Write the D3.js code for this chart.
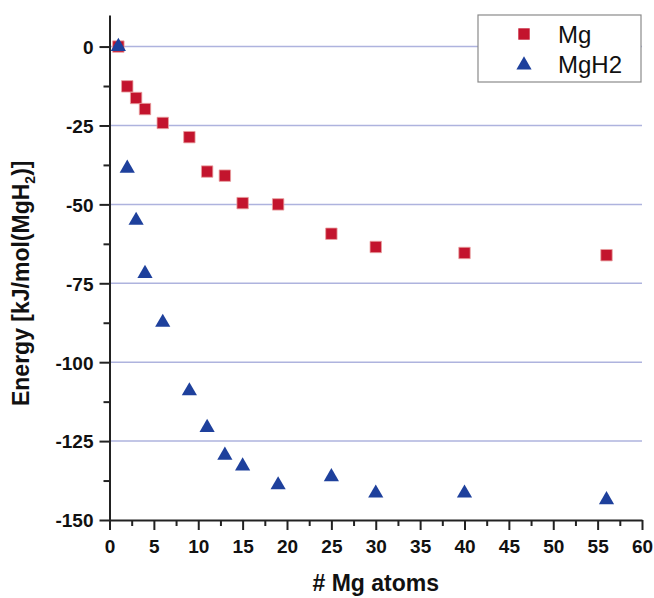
<!DOCTYPE html>
<html>
<head>
<meta charset="utf-8">
<script src="https://cdn.jsdelivr.net/npm/d3@7"></script>
<style>
  body { margin: 0; background: #fff; }
  svg { display: block; font-family: Arial, "Liberation Sans", Helvetica, sans-serif; }
</style>
</head>
<body>
<div id="chart"></div>
<script>
// number of Mg atoms in the cluster
const mgAtoms = [1, 2, 3, 4, 6, 9, 11, 13, 15, 19, 25, 30, 40, 56];
// energies, kJ/mol(MgH2)
const mgEnergy = [0, -12.6, -16.3, -19.8, -24.2, -28.7, -39.6, -40.9, -49.6, -50.0, -59.3, -63.5, -65.4, -66.1];
const mgh2Energy = [0, -38.6, -55.1, -71.9, -87.4, -109.1, -120.7, -129.5, -132.9, -138.9, -136.3, -141.5, -141.5, -143.6];

const xTicks = [0, 5, 10, 15, 20, 25, 30, 35, 40, 45, 50, 55, 60];
const yTicks = [0, -25, -50, -75, -100, -125, -150];

const width = 654, height = 598;
const margin = { top: 15, right: 12, bottom: 78, left: 109.5 };

const red = "#c3142d", blue = "#1e409c", axisColor = "#222";

const svg = d3.select("#chart").append("svg")
  .attr("width", width)
  .attr("height", height);

const x = d3.scaleLinear().domain([0, 60]).range([margin.left, width - margin.right]);
const y = d3.scaleLinear().domain([-150, 10]).range([height - margin.bottom, margin.top]);

// grid lines
svg.append("g")
  .selectAll("line")
  .data(yTicks.filter(d => d > -150))
  .enter().append("line")
  .attr("x1", x(0))
  .attr("x2", x(60))
  .attr("y1", d => y(d))
  .attr("y2", d => y(d))
  .attr("stroke", "#aeb3de")
  .attr("stroke-width", 1.5);

// minor ticks
const yMinor = d3.range(-137.5, 0, 25);
const xMinor = d3.range(2.5, 60, 5);

svg.append("g")
  .attr("transform", `translate(${x(0)},0)`)
  .call(d3.axisLeft(y).tickValues(yMinor).tickSize(6).tickFormat(""))
  .call(g => g.select(".domain").remove())
  .call(g => g.selectAll("line").attr("stroke", axisColor).attr("stroke-width", 2));

svg.append("g")
  .attr("transform", `translate(0,${y(-150)})`)
  .call(d3.axisBottom(x).tickValues(xMinor).tickSize(6).tickFormat(""))
  .call(g => g.select(".domain").remove())
  .call(g => g.selectAll("line").attr("stroke", axisColor).attr("stroke-width", 2));

// major axes (plain hyphen for negatives, like the original)
const yAxis = svg.append("g")
  .attr("transform", `translate(${x(0)},0)`)
  .call(d3.axisLeft(y).tickValues(yTicks).tickSize(10).tickPadding(6).tickSizeOuter(0).tickFormat(d => String(d)));

const xAxis = svg.append("g")
  .attr("transform", `translate(0,${y(-150)})`)
  .call(d3.axisBottom(x).tickValues(xTicks).tickSize(10).tickPadding(10).tickSizeOuter(0).tickFormat(d => String(d)));

[yAxis, xAxis].forEach(g => {
  g.select(".domain").attr("stroke", axisColor).attr("stroke-width", 2);
  g.selectAll(".tick line").attr("stroke", axisColor).attr("stroke-width", 2);
  g.selectAll(".tick text")
    .attr("fill", "#111")
    .style("font-size", "19px")
    .style("font-weight", "bold")
    .style("font-family", "Arial, 'Liberation Sans', sans-serif");
});
yAxis.selectAll(".tick text").attr("dy", "0.36em");

// axis titles
svg.append("text")
  .attr("x", (x(0) + x(60)) / 2)
  .attr("y", 591)
  .attr("text-anchor", "middle")
  .attr("fill", "#111")
  .style("font-size", "23px")
  .style("font-weight", "bold")
  .text("# Mg atoms");

const yTitle = svg.append("text")
  .attr("transform", `translate(28.5,${(y(-150) + y(0)) / 2}) rotate(-90)`)
  .attr("text-anchor", "middle")
  .attr("fill", "#111")
  .style("font-size", "23px")
  .style("font-weight", "bold");
yTitle.append("tspan").text("Energy [kJ/mol(MgH");
yTitle.append("tspan").attr("dy", 6).style("font-size", "14px").text("2");
yTitle.append("tspan").attr("dy", -6).text(")]");

// data points
const mgData = mgAtoms.map((n, i) => ({ n, e: mgEnergy[i] }));
const mgh2Data = mgAtoms.map((n, i) => ({ n, e: mgh2Energy[i] }));

svg.append("g")
  .selectAll("path")
  .data(mgData)
  .enter().append("path")
  .attr("transform", d => `translate(${x(d.n)},${y(d.e)})`)
  .attr("d", d3.symbol(d3.symbolSquare, 130))
  .attr("fill", red)
  .attr("stroke", "#e8a0a0")
  .attr("stroke-width", 0.8);

svg.append("g")
  .selectAll("path")
  .data(mgh2Data)
  .enter().append("path")
  .attr("transform", d => `translate(${x(d.n)},${y(d.e)})`)
  .attr("d", d3.symbol(d3.symbolTriangle, 100))
  .attr("fill", blue);

// legend
const legend = svg.append("g").attr("transform", "translate(478,15)");
legend.append("rect")
  .attr("width", 163)
  .attr("height", 67)
  .attr("fill", "#fff")
  .attr("stroke", "#8a8a8a")
  .attr("stroke-width", 1.2);

legend.append("path")
  .attr("transform", "translate(46,19)")
  .attr("d", d3.symbol(d3.symbolSquare, 130))
  .attr("fill", red);
legend.append("path")
  .attr("transform", "translate(46,50)")
  .attr("d", d3.symbol(d3.symbolTriangle, 100))
  .attr("fill", blue);

legend.append("text")
  .attr("x", 80).attr("y", 28)
  .attr("fill", "#111")
  .style("font-size", "24px")
  .text("Mg");
legend.append("text")
  .attr("x", 80).attr("y", 58)
  .attr("fill", "#111")
  .style("font-size", "24px")
  .text("MgH2");
</script>
</body>
</html>
